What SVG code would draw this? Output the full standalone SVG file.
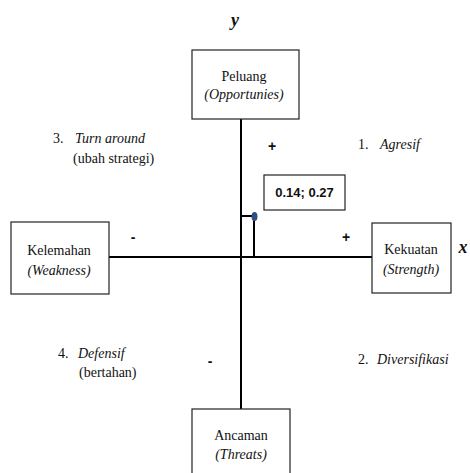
<svg xmlns="http://www.w3.org/2000/svg" width="470" height="473" viewBox="0 0 470 473">
<style>
.box{fill:#fff;stroke:#222;stroke-width:1.2}
.ax{stroke:#000;stroke-width:2;fill:none}
.t{font-family:'Liberation Serif','Times New Roman',serif;font-size:14px;fill:#111}
.i{font-style:italic}
.c{text-anchor:middle}
.big{font-size:18px;font-weight:bold}
.s{font-family:'Liberation Sans',Arial,sans-serif;font-weight:bold;fill:#111}
</style>
<rect width="470" height="473" fill="#fff"/>
<g id="connectors">
<line class="ax" x1="241" y1="119" x2="241" y2="409"/>
<line class="ax" x1="109" y1="257" x2="372" y2="257"/>
<polyline class="ax" points="241,216 254,216 254,257"/>
<ellipse cx="254.5" cy="216.5" rx="3" ry="4.5" fill="#2f4f80"/>
</g>
<g id="axis-y"><text class="t c i big" x="235" y="26">y</text></g>
<g id="axis-x"><text class="t c i big" x="463" y="253">x</text></g>
<g id="peluang">
<rect class="box" x="192" y="50" width="107" height="69"/>
<text class="t c" x="244" y="81">Peluang</text>
<text class="t c i" x="244" y="99">(Opportunies)</text>
</g>
<g id="kelemahan">
<rect class="box" x="11" y="222" width="98" height="72"/>
<text class="t c" x="59" y="255">Kelemahan</text>
<text class="t c i" x="59" y="275">(Weakness)</text>
</g>
<g id="kekuatan">
<rect class="box" x="372" y="223" width="79" height="70"/>
<text class="t c" x="411" y="254">Kekuatan</text>
<text class="t c i" x="411" y="274">(Strength)</text>
</g>
<g id="ancaman">
<rect class="box" x="192" y="409" width="98" height="70"/>
<text class="t c" x="241" y="440">Ancaman</text>
<text class="t c i" x="241" y="459">(Threats)</text>
</g>
<g id="point-label">
<rect class="box" x="264" y="175" width="81" height="35"/>
<text class="s" x="304.5" y="197" font-size="13" text-anchor="middle">0.14; 0.27</text>
</g>
<g id="signs">
<text class="s" x="272" y="151" font-size="14" text-anchor="middle">+</text>
<text class="s" x="346" y="242" font-size="14" text-anchor="middle">+</text>
<text class="s" x="133" y="242" font-size="14" text-anchor="middle">-</text>
<text class="s" x="210" y="366" font-size="14" text-anchor="middle">-</text>
</g>
<g id="quadrants">
<text class="t" x="358" y="149">1.</text><text class="t i" x="380" y="149">Agresif</text>
<text class="t" x="358" y="364">2.</text><text class="t i" x="377" y="364">Diversifikasi</text>
<text class="t" x="53" y="143">3.</text><text class="t i" x="75" y="143">Turn around</text>
<text class="t" x="73" y="163">(ubah strategi)</text>
<text class="t" x="58" y="358">4.</text><text class="t i" x="78" y="358">Defensif</text>
<text class="t" x="79" y="377">(bertahan)</text>
</g>
</svg>
